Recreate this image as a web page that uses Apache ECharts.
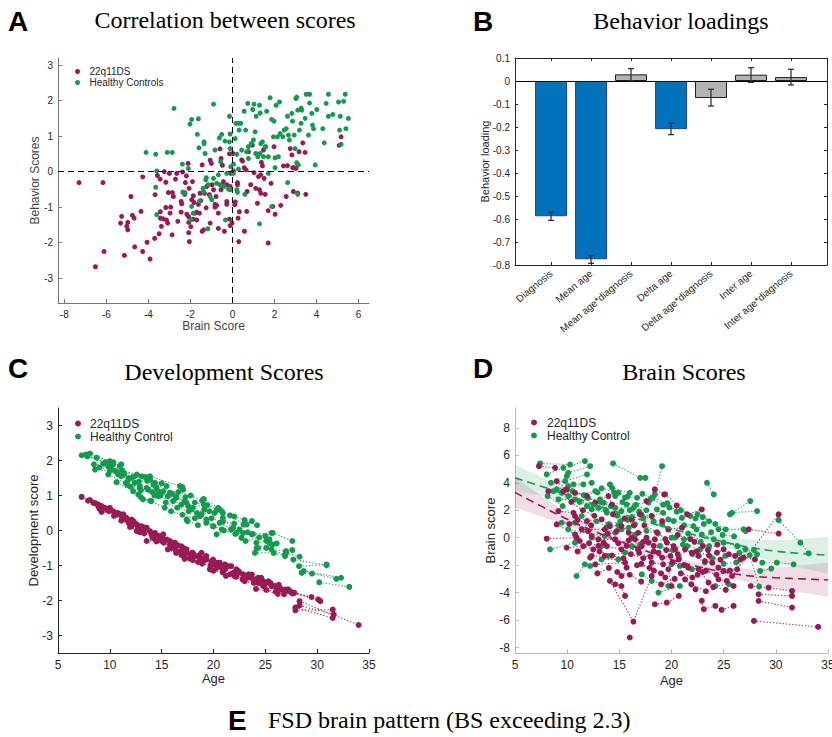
<!DOCTYPE html>
<html><head><meta charset="utf-8">
<script src="https://cdn.jsdelivr.net/npm/echarts@6/dist/echarts.min.js"></script>
<style>html,body{margin:0;padding:0;background:#fff}#c{width:832px;height:737px}</style>
</head><body><div id="c"></div>
<script>
// ---------- Panel A: Correlation between scores ----------
const a22q = [[-7.3,-0.31],[-6.16,-0.31],[-4.83,-0.70],[-4.27,-0.15],[-5.27,-1.26],[-5.32,-1.45],[-4.98,-1.43],[-5.03,-1.54],[-4.98,-1.64],[-4.76,-1.23],[-4.68,-1.31],[-4.35,-1.12],[-6.11,-2.25],[-6.52,-2.68],[-5.14,-2.36],[-4.65,-2.12],[-4.27,-2.25],[-4.06,-1.99],[-3.92,-2.46],[-3.70,-1.88],[-3.49,-1.75],[-3.68,-0.65],[-3.57,-0.11],[-3.44,-0.21],[-3.24,0.0],[-3.43,-1.13],[-3.43,-1.31],[-3.30,-1.33],[-3.38,-1.54],[-3.17,-0.30],[-3.17,-1.01],[-3.05,-0.59],[-3.0,-0.05],[-2.94,-1.0],[-2.86,-0.59],[-3.14,-1.36],[-3.08,-1.45],[-2.87,-1.78],[-2.97,-1.17],[-2.81,-0.70],[-2.71,-0.21],[-2.65,-0.05],[-2.60,-1.40],[-2.44,-1.14],[-2.44,-0.84],[-2.41,-0.91],[-2.27,-0.64],[-2.37,-0.01],[-2.17,-1.20],[-2.08,-1.27],[-2.08,-1.43],[-2.08,-1.72],[-2.05,-1.97],[-1.98,-1.55],[-2.24,-0.31],[-2.19,-0.12],[-2.06,-0.47],[-2.11,0.23],[-1.90,-0.28],[-1.94,-0.79],[-1.86,-0.68],[-1.83,-0.87],[-1.78,-1.17],[-1.70,-1.14],[-1.57,-1.17],[-1.86,-1.34],[-1.70,-1.36],[-1.62,-0.92],[-1.51,-0.82],[-1.44,-1.68],[-1.37,-1.64],[-1.44,0.19],[-1.33,-0.61],[-1.25,-1.02],[-1.10,-0.65],[-1.06,0.32],[-1.0,0.23],[-0.97,-0.37],[-0.90,-0.51],[-0.83,-0.92],[-0.83,-1.0],[-0.75,-0.95],[-0.67,-1.17],[-1.06,-1.45],[-0.67,-1.60],[-0.38,-1.68],[-0.54,0.37],[-0.59,0.64],[-0.48,0.18],[-0.43,-0.28],[-0.48,-0.39],[-0.27,-0.37],[-0.11,-0.42],[-0.27,-0.92],[-0.14,-1.34],[-0.11,-1.52],[-0.02,-1.45],[-0.27,-0.84],[-0.14,0.50],[0.02,0.51],[0.14,-0.85],[0.11,-0.93],[0.24,-0.31],[0.24,-0.37],[0.27,-1.31],[0.30,-1.97],[0.33,-1.13],[0.44,0.33],[0.48,0.30],[0.56,0.11],[0.65,0.05],[0.70,-0.56],[0.68,-1.12],[0.57,-1.68],[0.76,0.56],[0.87,-0.37],[0.95,0.75],[1.03,-0.03],[1.11,-0.47],[1.19,-0.89],[1.24,-0.14],[1.29,-0.51],[1.35,-0.09],[1.38,0.26],[1.35,-0.61],[1.43,0.16],[1.51,-0.19],[1.56,-0.64],[1.70,-1.10],[1.70,-2.01],[1.84,-0.33],[1.92,-0.98],[1.98,0.70],[2.03,-1.20],[2.30,-0.95],[2.43,0.16],[2.56,-0.70],[2.62,0.17],[2.75,0.65],[2.83,0.47],[2.87,0.11],[2.90,-0.56],[2.95,0.11],[3.03,0.09],[3.11,-0.61],[3.17,0.56],[3.35,0.81],[3.46,0.54],[3.49,-0.64],[5.08,0.74],[5.17,0.98],[1.48,0.61],[-1.54,-0.61],[-1.22,-0.42],[-0.78,-0.70],[-0.54,-0.51],[0.05,0.02],[-0.08,-0.05]];
const aHC = [[-2.78,1.78],[-4.11,0.54],[-3.65,0.49],[-3.10,0.54],[-2.86,0.54],[-3.60,0.02],[-3.65,-0.44],[-3.60,-1.21],[-2.38,0.21],[-2.10,0.09],[-2.02,1.34],[-1.94,1.47],[-1.62,1.49],[-1.67,1.05],[-1.59,0.67],[-1.35,0.84],[-1.35,0.79],[-1.30,0.51],[-0.90,1.90],[-0.83,0.61],[-0.62,0.95],[-0.51,1.05],[-0.56,0.28],[-0.35,0.86],[-0.14,1.56],[-0.14,0.84],[-0.11,0.65],[-0.11,1.06],[-2.36,-0.58],[-2.25,-0.59],[-1.94,-0.98],[-1.86,-1.17],[-1.98,-1.36],[-1.40,-0.47],[-1.37,-0.56],[-1.27,-0.23],[-1.24,-0.17],[-1.16,-0.37],[-1.06,-0.70],[-1.17,-1.61],[-0.90,-0.19],[-0.75,-0.33],[-0.67,-0.09],[-0.59,-0.37],[-0.40,-0.42],[-0.33,-1.36],[-0.27,-0.05],[-0.19,-0.49],[-0.08,0.14],[0.05,0.21],[0.13,0.93],[0.16,1.36],[0.29,1.36],[0.40,1.36],[0.21,0.49],[0.24,-0.58],[0.21,-0.51],[0.29,0.07],[0.32,1.17],[0.44,0.61],[0.56,1.70],[0.63,1.17],[0.68,0.56],[0.73,1.92],[0.76,0.37],[0.59,-0.64],[0.89,0.79],[0.97,1.75],[1.03,1.90],[1.08,1.12],[1.11,0.51],[1.13,1.56],[1.21,0.42],[1.29,1.87],[1.29,-1.47],[1.32,1.65],[1.35,0.79],[1.43,0.84],[1.48,0.42],[1.56,0.70],[1.59,0.70],[1.63,1.70],[1.71,0.42],[1.79,2.08],[1.71,-0.05],[1.87,1.47],[1.87,-0.98],[1.95,0.98],[1.98,1.42],[2.03,0.39],[2.03,0.11],[2.08,1.87],[2.14,0.98],[2.19,0.42],[2.24,1.96],[2.27,1.07],[2.40,0.98],[2.46,1.17],[2.56,1.21],[2.62,1.56],[2.63,-0.31],[2.67,1.03],[2.71,0.89],[2.83,1.64],[2.86,1.42],[2.94,1.03],[2.98,0.65],[3.02,2.06],[3.06,2.10],[3.06,0.25],[3.11,1.73],[3.11,-0.64],[3.14,0.19],[3.19,1.17],[3.27,1.79],[3.27,1.36],[3.30,1.73],[3.46,1.50],[3.51,2.18],[3.62,1.03],[3.67,2.18],[3.67,1.93],[3.78,1.64],[3.81,1.31],[3.86,1.21],[3.94,0.19],[4.02,1.75],[4.30,1.21],[4.37,0.81],[4.46,1.92],[4.57,2.18],[4.57,1.56],[4.78,1.61],[5.05,1.96],[5.10,1.17],[5.13,1.56],[5.17,0.77],[5.29,1.98],[5.37,2.18],[5.40,1.21],[5.52,1.50],[-0.11,-0.51],[-1.57,-0.83],[-0.98,-0.79],[0.05,-0.05],[0.76,0.70],[1.0,0.89],[1.32,0.51]];
const aTicksX = [-8,-6,-4,-2,0,2,4,6];
const aTicksY = [-3,-2,-1,0,1,2,3];

// ---------- Panel B: Behavior loadings ----------
const bCats = ['Diagnosis','Mean age','Mean age*diagnosis','Delta age','Delta age*diagnosis','Inter age','Inter age*diagnosis'];
const bVals = [-0.588,-0.775,0.029,-0.209,-0.074,0.0275,0.017];
const bErrLo = [-0.606,-0.793,0.0,-0.233,-0.109,-0.006,-0.017];
const bErrHi = [-0.570,-0.759,0.054,-0.183,-0.036,0.058,0.051];
const bSig = [true,true,false,true,false,false,false];

// ---------- Panel C: Development scores (each subject's visits joined) ----------
const cHC = [
 [[7.28,2.15],[8.73,2.08],[10.33,1.95]],[[7.7,2.17],[9.37,1.91],[10.5,1.70]],[[7.83,2.12],[9.63,1.95],[11.1,1.89]],
 [[8.08,2.2],[10.0,1.98],[10.97,1.84]],[[8.47,1.89],[9.85,1.84],[11.8,1.50]],[[8.57,1.74],[10.0,1.70],[11.1,1.55]],
 [[9.53,1.93],[10.3,1.89],[12.4,1.55]],[[9.85,1.60],[11.55,1.36],[12.4,1.36]],[[10.65,1.69],[12.1,1.50],[13.06,1.55]],
 [[10.65,1.38],[12.25,1.12],[12.75,1.03]],[[10.8,1.6],[11.8,1.46],[12.9,1.27]],[[13.4,1.53],[14.2,1.31],[15.47,1.27]],
 [[13.87,1.55],[16.75,1.27],[17.0,1.24]],[[13.55,1.22],[14.5,1.22],[15.15,1.12]],[[13.7,1.17],[14.66,1.12],[15.8,1.08],[17.07,1.17]],
 [[13.2,0.89],[14.0,0.84],[15.3,0.65]],[[14.35,1.36],[16.4,0.98],[17.4,0.79]],[[14.67,0.98],[16.1,0.84],[16.9,0.74]],
 [[15.6,0.98],[16.4,0.93],[17.2,0.84]],[[17.55,0.70],[17.9,0.60],[18.7,0.41]],[[17.7,0.6],[18.0,0.65],[19.07,0.74]],
 [[17.4,0.31],[17.5,0.27],[18.5,0.15]],[[18.4,0.50],[19.1,0.60],[20.1,0.50]],[[18.85,0.46],[19.6,0.55],[20.3,0.58]],
 [[19.0,0.89],[19.07,0.9],[20.45,0.65]],[[19.3,0.31],[20.0,0.12],[20.8,0.03]],[[19.3,0.22],[19.95,0.12],[20.6,0.22],[21.7,0.03]],
 [[20.3,-0.11],[21.9,0.08],[22.5,0.03]],[[20.8,0.55],[20.9,0.50],[21.6,0.43],[22.9,0.17]],[[20.9,0.36],[22.7,-0.21],[22.85,-0.07]],
 [[22.2,-0.07],[23.2,0.17],[23.7,0.27]],[[23.7,-0.11],[25.0,-0.16],[25.6,-0.07]],[[23.8,-0.10],[25.7,-0.07],[27.6,-0.30]],
 [[24.14,-0.35],[25.1,-0.30],[26.1,-0.37]],[[24.3,-0.5],[25.4,-0.37],[25.7,-0.4]],[[24.15,-0.50],[25.6,-0.54],[27.0,-0.59]],
 [[24.0,-0.64],[25.8,-0.64],[26.9,-0.73]],[[25.1,-0.5],[26.9,-0.69],[27.6,-0.56]],[[27.0,-0.64],[28.3,-0.75]],
 [[27.7,-0.83],[30.9,-0.99]],[[28.25,-1.02],[30.9,-0.97]],[[28.5,-1.21],[29.5,-1.23],[31.85,-1.38]],
 [[28.7,-1.16],[32.3,-1.35]],[[30.2,-1.48],[33.1,-1.61]],
 [[9.0,1.8],[10.2,1.75],[11.4,1.62]],[[11.2,1.72],[12.6,1.6],[13.6,1.42]],[[12.0,1.25],[13.0,1.15],[14.1,1.1]],
 [[12.8,1.4],[13.9,1.45],[15.0,1.35]],[[14.9,1.0],[16.0,1.05],[17.3,0.95]],[[15.9,0.55],[17.0,0.45],[18.2,0.35]],
 [[16.6,1.1],[17.8,1.0],[18.9,0.85]],[[18.2,0.8],[19.4,0.72],[20.6,0.6]],[[19.8,0.35],[20.9,0.25],[22.0,0.2]],
 [[21.0,0.0],[22.1,-0.1],[23.3,-0.05]],[[22.0,0.4],[23.0,0.3],[24.2,0.15]],[[23.1,-0.3],[24.4,-0.2],[25.4,-0.25]],
 [[13.0,0.95],[13.9,0.85]],[[15.4,0.8],[16.5,0.65],[17.6,0.55]],[[11.7,1.3],[12.9,1.2],[14.3,1.0]]
];
const c22q = [
 [[7.28,0.96],[8.4,0.79],[9.2,0.70]],[[8.08,0.87],[8.9,0.74],[9.7,0.60]],[[8.88,0.69],[9.53,0.65],[10.33,0.55]],
 [[9.2,0.53],[10.6,0.50],[11.3,0.41]],[[10.0,0.65],[10.97,0.46],[11.6,0.31]],[[10.0,0.6],[10.8,0.5],[11.6,0.36]],
 [[11.3,0.46],[12.1,0.31],[12.9,0.12]],[[11.95,0.22],[12.6,0.17],[13.55,0.08]],[[12.1,0.12],[13.1,0.12],[13.87,-0.02]],
 [[11.94,0.1],[12.9,-0.05],[14.35,-0.07]],[[12.25,0.27],[12.4,0.22],[13.4,0.08]],[[13.55,-0.30],[14.5,-0.31],[15.3,-0.26]],
 [[14.35,-0.11],[15.15,-0.11],[16.1,-0.35]],[[14.7,-0.16],[15.8,-0.30],[16.6,-0.43]],[[15.0,-0.16],[15.8,-0.40],[16.9,-0.45]],
 [[15.5,-0.26],[16.3,-0.35],[17.1,-0.50]],[[15.6,-0.54],[16.4,-0.64],[17.4,-0.54]],[[16.4,-0.59],[17.4,-0.64],[18.0,-0.64]],
 [[17.2,-0.81],[18.7,-0.78]],[[17.2,-0.73],[18.5,-0.73],[19.3,-0.83]],[[17.9,-0.64],[18.84,-0.64],[19.3,-0.73]],
 [[18.2,-0.73],[19.0,-0.88],[19.96,-0.83]],[[18.85,-0.88],[19.96,-0.92],[20.3,-1.07]],[[19.65,-1.11],[21.1,-1.11]],
 [[19.8,-0.88],[20.6,-0.92],[21.1,-0.97]],[[20.3,-0.92],[20.6,-1.02],[21.9,-1.21]],[[20.9,-1.11],[21.7,-1.02],[22.2,-1.11]],
 [[21.4,-1.02],[22.4,-1.16],[22.85,-1.26]],[[22.05,-1.31],[22.9,-1.26],[23.5,-1.31]],[[22.2,-1.32],[23.3,-1.35],[24.3,-1.5]],
 [[23.7,-1.26],[24.15,-1.40],[24.8,-1.45]],[[23.8,-1.4],[24.5,-1.50],[25.4,-1.5]],[[24.1,-1.67],[26.2,-1.81]],
 [[24.8,-1.59],[25.9,-1.59],[26.55,-1.69]],[[25.3,-1.45],[26.1,-1.64],[27.0,-1.73]],[[25.6,-1.59],[26.4,-1.64],[27.35,-1.73]],
 [[26.9,-1.69],[27.7,-1.78],[29.45,-1.90]],[[27.5,-1.76],[30.1,-1.97]],[[27.8,-1.78],[30.3,-2.02]],
 [[27.9,-2.28],[31.5,-2.26]],[[28.3,-2.14],[31.6,-2.40]],[[28.3,-2.02],[34.0,-2.70]],[[27.9,-2.20],[31.5,-2.50]],
 [[7.9,0.85],[8.6,0.78]],[[9.0,0.62],[9.9,0.55],[10.7,0.46]],[[10.4,0.42],[11.2,0.35],[12.0,0.2]],
 [[11.1,0.28],[11.8,0.22],[12.7,0.05]],[[12.6,-0.02],[13.3,-0.08],[14.1,-0.2]],[[13.2,0.02],[14.0,-0.1],[14.9,-0.22]],
 [[14.2,-0.22],[15.0,-0.3],[15.9,-0.45]],[[15.2,-0.35],[16.0,-0.5],[16.8,-0.6]],[[16.2,-0.45],[17.0,-0.6],[17.8,-0.72]],
 [[16.9,-0.7],[17.7,-0.8],[18.5,-0.9]],[[18.0,-0.85],[18.9,-0.95],[19.7,-1.0]],[[19.1,-0.8],[19.9,-0.98],[20.8,-1.05]],
 [[20.0,-1.15],[20.9,-1.2],[21.6,-1.25]],[[21.2,-1.3],[22.0,-1.22],[22.8,-1.4]],[[22.5,-1.2],[23.4,-1.25],[24.3,-1.35]],
 [[23.0,-1.45],[23.9,-1.5],[24.9,-1.55]],[[24.6,-1.35],[25.5,-1.5],[26.3,-1.55]],[[25.1,-1.7],[26.0,-1.75],[26.8,-1.82]],
 [[26.2,-1.6],[27.2,-1.68],[27.6,-1.8]]
];
const cTicksY = [-3,-2,-1,0,1,2,3];

// ---------- Panel D: Brain scores ----------
const dHC = [
 [[7.4,5.41],[10.28,5.33]],[[8.04,4.61],[9.64,5.09],[11.7,5.58]],[[8.45,4.0],[9.8,4.12],[11.9,4.61]],
 [[9.0,3.52],[10.6,3.88],[12.35,4.0]],[[8.68,3.39],[10.1,3.76],[11.55,3.88]],[[9.48,3.27],[10.1,3.03],[12.7,3.39]],
 [[9.16,2.79],[10.75,2.79],[13.15,2.79]],[[8.13,3.03],[9.57,2.3]],[[9.96,4.48],[10.1,4.73],[12.2,5.21]],
 [[14.4,5.41],[17.0,4.36],[17.5,4.36]],[[18.4,3.15],[19.1,5.21]],[[14.1,3.88],[14.3,3.64],[16.0,3.27]],
 [[14.6,3.03],[14.9,3.27],[15.55,2.91],[16.7,2.91]],[[13.5,2.55],[15.7,2.42],[17.8,2.55]],[[13.0,2.18],[14.6,2.18],[16.35,2.18]],
 [[12.35,2.06],[13.8,1.82],[15.2,1.94]],[[11.4,1.58],[12.35,0.0]],[[11.9,2.3]],
 [[9.48,1.09],[10.75,1.09],[13.3,-0.61]],[[10.1,0.61],[13.6,0.12],[14.6,0.36]],[[8.36,-0.85],[10.75,-0.36]],
 [[10.9,-2.79],[11.7,-1.94]],[[12.2,-2.06],[13.3,-1.58],[14.9,-1.58]],[[13.95,-1.33],[15.55,-1.09],[17.0,-0.48]],
 [[16.2,-0.61],[20.0,0.0]],[[17.15,-2.67],[18.1,-3.15],[19.7,-3.52]],[[18.75,-4.0],[20.8,-3.52]],
 [[15.2,0.61],[15.9,0.73],[16.5,0.97]],[[17.3,1.45],[18.1,1.58],[19.2,1.82]],[[18.6,2.06],[20.2,1.21],[21.0,1.45]],
 [[19.4,3.15],[21.8,1.58]],[[19.1,0.97],[19.7,1.33],[22.1,0.85]],[[19.7,0.61],[20.36,0.0],[21.2,-0.12]],
 [[21.5,-0.61],[22.75,-0.85],[23.6,-0.61]],[[20.7,-1.45],[22.9,0.24],[24.05,-0.12]],[[20.0,-1.94],[20.8,-2.06],[21.95,-2.3]],
 [[23.4,4.0],[24.05,3.15]],[[24.2,-3.52],[25.5,-3.39]],[[24.5,0.61],[26.9,0.61],[27.1,0.48]],
 [[25.0,-0.36],[26.3,-0.61],[27.1,-0.85]],[[25.15,-1.33],[28.2,-1.21]],[[25.6,1.7],[27.55,2.67]],
 [[25.8,1.82],[28.2,1.94]],[[28.7,-1.82],[30.1,-1.82],[31.7,-1.94]],[[27.5,-1.28],[28.4,-3.56]],
 [[28.5,-2.42],[29.56,-2.25]],[[30.27,1.28],[32.35,-0.36],[33.15,-1.14]],
 [[12.0,2.9],[13.2,2.6],[14.2,2.3]],[[14.8,1.6],[15.8,1.3],[16.9,1.9]],[[16.0,2.0],[17.1,1.7],[18.3,1.2]],
 [[15.3,2.6],[16.6,2.4],[17.6,2.0]],[[18.0,2.8],[19.2,2.4],[20.5,1.9]],[[21.2,0.9],[22.4,0.6],[23.1,1.0]],
 [[22.5,1.7],[23.6,1.2]],[[24.9,0.2],[26.0,0.1]],[[26.5,-1.1],[27.9,-0.9]],
 [[10.5,3.4],[11.6,3.1],[12.9,3.3]],[[11.2,2.6],[12.5,2.4],[13.7,2.0]],[[13.3,3.6],[14.5,3.3],[15.8,3.0]],
 [[14.0,1.0],[15.1,1.2],[16.2,1.5]],[[16.5,0.2],[17.6,0.5],[18.7,0.3]],[[17.2,3.2],[18.2,2.9],[19.6,2.5]],
 [[18.9,-0.6],[20.1,-0.9],[21.1,-0.5]],[[19.8,2.2],[20.9,2.0],[22.3,1.4]],[[21.6,0.3],[22.8,-0.3],[23.8,0.4]],
 [[23.0,1.5],[24.2,1.0],[25.2,0.6]],[[23.9,-1.5],[25.0,-1.9],[26.2,-1.8]],[[12.8,1.2],[13.8,0.8],[14.9,0.9]],
 [[22.0,-1.2],[23.2,-1.8]]
];
const d22q = [
 [[7.3,5.21],[8.84,5.09]],[[8.2,3.39],[9.64,3.39],[10.75,3.27]],[[9.0,4.12],[9.96,3.52],[11.9,3.03]],
 [[9.16,1.94],[10.6,1.82],[10.75,1.58]],[[9.0,0.97],[10.75,0.24],[12.0,0.48]],[[8.04,-0.07],[10.9,0.0],[11.2,-0.24]],
 [[9.96,-0.73],[11.55,-0.61],[12.5,-0.85]],[[11.4,0.61],[13.6,0.61],[14.75,0.48]],[[11.9,1.21],[13.3,1.33],[14.1,0.85]],
 [[12.35,0.12],[13.0,-0.12],[14.6,-0.12]],[[12.2,-1.45],[12.35,-1.33],[13.6,-1.33]],[[12.7,-1.94],[15.55,-1.82],[15.7,-2.18]],
 [[13.5,-0.36],[13.8,-0.61],[15.2,-0.85]],[[14.1,-3.15],[16.35,-6.11],[18.1,-2.79]],[[14.6,-3.39],[15.2,-3.52],[15.55,-4.24]],
 [[16.0,-7.27]],[[15.2,-2.79]],[[12.7,2.55],[13.95,3.03],[14.3,2.42]],
 [[15.2,0.85],[15.9,0.36],[16.8,0.36]],[[16.2,1.33],[17.0,1.7],[18.1,1.58]],[[17.6,2.67],[18.4,3.52],[19.3,3.15]],
 [[16.5,-0.12],[16.8,-0.85],[17.15,-0.61]],[[17.6,0.0],[17.8,-0.36],[18.4,-0.12]],[[18.75,-1.09],[19.1,-1.45],[19.9,-1.33]],
 [[18.1,-1.82],[19.2,-1.94],[20.7,-1.58]],[[19.1,1.21],[19.7,0.61],[21.0,0.73]],[[18.4,-4.85],[19.55,-4.73],[20.7,-4.24]],
 [[20.5,2.35],[21.5,1.7],[22.9,2.06]],[[19.56,-0.36],[20.2,-0.61],[20.36,-0.85]],[[21.3,-0.85],[21.95,-1.09],[22.6,-1.33]],
 [[23.2,-1.7],[23.9,-1.82],[24.5,-2.18]],[[25.0,-2.42],[26.3,-2.3],[26.6,-1.58]],[[24.5,-3.03],[25.3,-3.15],[25.95,-3.52]],
 [[22.9,-4.6],[23.1,-5.21],[24.2,-4.97]],[[24.8,-5.26],[25.95,-4.97]],[[21.6,-2.18],[22.6,-2.3],[23.55,-3.27]],
 [[21.3,-3.03],[22.3,-3.76]],[[19.7,-2.3],[20.0,-3.52]],[[24.36,-1.09],[25.0,-0.85],[25.5,-1.21],[26.1,-1.33]],
 [[26.9,-1.45],[28.0,-1.58]],[[27.4,0.61],[30.27,0.3]],[[25.8,-2.79],[30.27,1.7]],
 [[27.6,-3.52],[29.3,-3.64],[31.55,-3.88]],[[28.35,-4.12],[31.55,-4.24]],[[28.35,-4.61],[31.55,-5.09]],
 [[27.9,-6.06],[34.05,-6.5]],[[13.9,0.3],[14.9,-0.4],[15.9,-0.2]],[[16.1,-1.2],[17.3,-1.5],[18.3,-1.0]],
 [[16.7,-2.0],[17.9,-2.2],[19.0,-2.6]],[[14.4,1.7],[15.5,1.4],[16.4,0.9]],[[17.4,0.9],[18.6,0.4],[19.4,-0.1]],
 [[20.9,-2.6],[22.0,-2.9],[23.0,-2.5]],[[22.2,-0.3],[23.5,-0.9],[24.4,-0.5]],[[10.4,2.6],[11.5,2.0],[12.6,1.6]],
 [[12.9,-2.6],[14.0,-2.2]],
 [[10.2,1.0],[11.0,1.3],[12.3,0.9]],[[11.0,-1.0],[12.1,-0.4],[13.0,-0.6]],[[13.1,-1.0],[14.3,-1.3],[15.4,-1.5]],
 [[14.8,-2.5],[16.0,-2.7],[17.1,-3.2]],[[15.7,-0.6],[16.9,-1.1],[18.0,-1.4]],[[17.1,-1.9],[18.3,-2.4],[19.4,-2.9]],
 [[18.3,-0.6],[19.5,-0.9],[20.6,-1.2]],[[20.1,-1.8],[21.2,-2.0],[22.5,-2.7]],[[20.6,0.2],[21.8,-0.1],[23.0,-0.6]],
 [[22.4,-1.0],[23.6,-1.3],[24.7,-1.6]],[[23.3,-2.4],[24.3,-2.7],[25.6,-2.4]],[[24.0,-3.6],[25.2,-3.8]],
 [[19.0,-3.4],[20.3,-3.0]],[[21.9,-3.4],[23.3,-3.9]],[[16.2,0.0],[17.3,-0.3]]
];
const dFitAges = [5,7.5,10,12.5,15,17.5,20,22.5,25,27.5,30,32.5,35];
const dFitHC   = [4.36,3.75,3.1,2.45,1.8,1.2,0.65,0.15,-0.3,-0.7,-0.98,-1.15,-1.28];
const dFit22q  = [3.3,2.3,1.35,0.5,-0.25,-0.95,-1.6,-2.1,-2.5,-2.78,-2.92,-3.0,-3.08];
const dBandHCHi  = [5.31,4.45,3.55,2.75,2.05,1.4,0.85,0.4,0.05,-0.15,-0.18,-0.1,0.07];
const dBandHCLo  = [3.41,3.05,2.65,2.15,1.55,1.0,0.45,-0.1,-0.65,-1.25,-1.78,-2.2,-2.63];
const dBand22qHi = [4.4,3.05,1.8,0.8,0.0,-0.75,-1.4,-1.85,-2.15,-2.28,-2.17,-2.0,-1.8];
const dBand22qLo = [2.2,1.55,0.9,0.2,-0.5,-1.15,-1.8,-2.35,-2.85,-3.28,-3.67,-4.0,-4.3];
const dTicksY = [-8,-6,-4,-2,0,2,4,6,8];

// ---------- styling ----------
const MAROON = '#9a1a55', GREEN = '#149a4f';
const SANS = '"Liberation Sans", Arial, Helvetica, sans-serif';
const SERIF = '"Liberation Serif", "Times New Roman", serif';
const TXT = '#262626';

function axisBase(gridIndex, lineColor, fs) {
  return {
    gridIndex, type: 'value',
    axisLine: { show: true, onZero: false, lineStyle: { color: lineColor, width: 1 } },
    axisTick: { show: true, inside: true, length: 4, lineStyle: { color: lineColor } },
    axisLabel: { color: TXT, fontSize: fs, fontFamily: SANS, margin: 5 },
    splitLine: { show: false },
    nameLocation: 'middle', nameMoveOverlap: false,
    nameTextStyle: { color: TXT, fontFamily: SANS }
  };
}
function merge(a, b) {
  const o = Object.assign({}, a);
  for (const k in b) {
    if (b[k] && typeof b[k] === 'object' && !Array.isArray(b[k]) && a[k] && typeof a[k] === 'object') o[k] = Object.assign({}, a[k], b[k]);
    else o[k] = b[k];
  }
  return o;
}

const bIdx = bCats.map((c, i) => i + 1);

const xAxis = [
  merge(axisBase(0, '#777', 10), { min: -8.3, max: 6.5, name: 'Brain Score', nameGap: 17,
    axisTick: { customValues: aTicksX }, axisLabel: { customValues: aTicksX, margin: 6 },
    nameTextStyle: { fontSize: 12, color: '#444' } }),
  merge(axisBase(1, TXT, 10), { min: 0.1, max: 7.9,
    axisTick: { customValues: bIdx, length: 3 },
    axisLabel: { customValues: bIdx, rotate: 40, margin: 7, formatter: v => bCats[Math.round(v) - 1] || '' } }),
  merge(axisBase(1, TXT, 10), { min: 0.1, max: 7.9, position: 'top',
    axisTick: { customValues: bIdx, length: 3 }, axisLabel: { show: false } }),
  merge(axisBase(2, TXT, 12), { min: 5, max: 35, interval: 5, name: 'Age', nameGap: 19,
    axisLabel: { margin: 6 }, nameTextStyle: { fontSize: 13 } }),
  merge(axisBase(3, '#bbb', 12), { min: 5, max: 35, interval: 5, name: 'Age', nameGap: 21,
    axisLabel: { margin: 6 }, nameTextStyle: { fontSize: 13 } })
];
const yAxis = [
  merge(axisBase(0, '#777', 10), { min: -3.7, max: 3.2, name: 'Behavior Scores', nameGap: 17,
    axisTick: { customValues: aTicksY }, axisLabel: { customValues: aTicksY },
    nameTextStyle: { fontSize: 12, color: '#444' } }),
  merge(axisBase(1, TXT, 10), { min: -0.8, max: 0.1, interval: 0.1, name: 'Behavior loading', nameGap: 25,
    axisTick: { length: 3 }, nameTextStyle: { fontSize: 11 } }),
  merge(axisBase(1, TXT, 10), { min: -0.8, max: 0.1, interval: 0.1, position: 'right',
    axisTick: { length: 3 }, axisLabel: { show: false } }),
  merge(axisBase(2, TXT, 12), { min: -3.5, max: 3.5, name: 'Development score', nameGap: 18,
    axisTick: { customValues: cTicksY }, axisLabel: { customValues: cTicksY }, nameTextStyle: { fontSize: 13 } }),
  merge(axisBase(3, '#bbb', 12), { min: -8.4, max: 9.45, name: 'Brain score', nameGap: 18,
    axisTick: { customValues: dTicksY }, axisLabel: { customValues: dTicksY }, nameTextStyle: { fontSize: 13 } })
];

const grid = [
  { left: 58, top: 58, width: 311, height: 245, outerBoundsMode: 'none', containLabel: false },
  { left: 515, top: 58, width: 312, height: 207, outerBoundsMode: 'none', containLabel: false },
  { left: 58, top: 408, width: 311, height: 245, outerBoundsMode: 'none', containLabel: false },
  { left: 515, top: 408, width: 313, height: 245, outerBoundsMode: 'none', containLabel: false }
];

function bandSeries(hi, lo, color, name) {
  return {
    type: 'custom', name, xAxisIndex: 4, yAxisIndex: 4, z: 1, silent: true,
    data: [[20, 0]],
    renderItem: (params, api) => {
      const top = dFitAges.map((a, i) => api.coord([a, hi[i]]));
      const bot = dFitAges.map((a, i) => api.coord([a, lo[i]])).reverse();
      return { type: 'polygon', shape: { points: top.concat(bot) }, style: { fill: color } };
    }
  };
}
function subjLines(subjects, color, ai, name) {
  return {
    type: 'lines', name, coordinateSystem: 'cartesian2d', xAxisIndex: ai, yAxisIndex: ai,
    polyline: true, silent: true, z: 2,
    data: subjects.filter(s => s.length > 1).map(s => ({ coords: s })),
    lineStyle: { color, width: 1.1, type: [1.4, 1.8], opacity: 0.85 }
  };
}
function pts(subjects, color, ai, name, size) {
  return { type: 'scatter', name, xAxisIndex: ai, yAxisIndex: ai, z: 3,
    data: subjects.flat(), symbolSize: size, itemStyle: { color, opacity: 1 } };
}

const series = [
  // A
  { type: 'scatter', name: '22q11DS', xAxisIndex: 0, yAxisIndex: 0, data: a22q, symbolSize: 5,
    itemStyle: { color: MAROON, opacity: 1 },
    markLine: { silent: true, symbol: 'none', label: { show: false },
      lineStyle: { color: '#000', type: [6, 4], width: 1 }, data: [{ xAxis: 0 }, { yAxis: 0 }] } },
  { type: 'scatter', name: 'Healthy Controls', xAxisIndex: 0, yAxisIndex: 0, data: aHC, symbolSize: 5,
    itemStyle: { color: GREEN, opacity: 1 } },
  // B
  { type: 'bar', name: 'loading', xAxisIndex: 1, yAxisIndex: 1, barWidth: 32,
    data: bVals.map((v, i) => ({ value: [i + 1, v],
      itemStyle: bSig[i] ? { color: '#0071BD', borderColor: '#2a3ea8', borderWidth: 1 }
                         : { color: '#b3b3b3', borderColor: '#1e1e24', borderWidth: 1 } })),
    markLine: { silent: true, symbol: 'none', label: { show: false },
      lineStyle: { color: '#000', type: 'solid', width: 1 }, data: [{ yAxis: 0 }] } },
  { type: 'custom', name: 'err', xAxisIndex: 1, yAxisIndex: 1, z: 5,
    data: bVals.map((v, i) => [i + 1, bErrLo[i], bErrHi[i]]),
    encode: { x: 0, y: [1, 2] },
    renderItem: (params, api) => {
      const x = api.value(0);
      const p1 = api.coord([x, api.value(1)]), p2 = api.coord([x, api.value(2)]);
      const w = 3, st = { stroke: '#333', lineWidth: 1.3 };
      return { type: 'group', children: [
        { type: 'line', shape: { x1: p1[0], y1: p1[1], x2: p2[0], y2: p2[1] }, style: st },
        { type: 'line', shape: { x1: p1[0] - w, y1: p1[1], x2: p1[0] + w, y2: p1[1] }, style: st },
        { type: 'line', shape: { x1: p2[0] - w, y1: p2[1], x2: p2[0] + w, y2: p2[1] }, style: st } ] };
    } },
  // C
  subjLines(cHC, GREEN, 3, 'cHCLines'),
  subjLines(c22q, MAROON, 3, 'c22qLines'),
  pts(cHC, GREEN, 3, 'Healthy Control', 6),
  pts(c22q, MAROON, 3, '22q11DS', 6),
  // D
  bandSeries(dBand22qHi, dBand22qLo, 'rgba(160,30,90,0.15)', 'band22q'),
  bandSeries(dBandHCHi, dBandHCLo, 'rgba(26,152,80,0.15)', 'bandHC'),
  subjLines(dHC, GREEN, 4, 'dHCLines'),
  subjLines(d22q, MAROON, 4, 'd22qLines'),
  pts(dHC, GREEN, 4, 'Healthy Control', 6),
  pts(d22q, MAROON, 4, '22q11DS', 6),
  { type: 'line', name: 'fitHC', xAxisIndex: 4, yAxisIndex: 4, z: 4, smooth: true, showSymbol: false, silent: true,
    data: dFitAges.map((a, i) => [a, dFitHC[i]]), lineStyle: { color: GREEN, width: 1.6, type: [8, 5] } },
  { type: 'line', name: 'fit22q', xAxisIndex: 4, yAxisIndex: 4, z: 4, smooth: true, showSymbol: false, silent: true,
    data: dFitAges.map((a, i) => [a, dFit22q[i]]), lineStyle: { color: MAROON, width: 1.6, type: [8, 5] } }
];

const legend = [
  { data: ['22q11DS', 'Healthy Controls'], left: 70, top: 61, orient: 'vertical', icon: 'circle',
    itemWidth: 14, itemHeight: 5, itemGap: 0, selectedMode: false,
    textStyle: { color: TXT, fontFamily: SANS, fontSize: 10, lineHeight: 11 } },
  { data: ['22q11DS', 'Healthy Control'], left: 70, top: 412, orient: 'vertical', icon: 'circle',
    itemWidth: 14, itemHeight: 6, itemGap: 0, selectedMode: false,
    textStyle: { color: TXT, fontFamily: SANS, fontSize: 12, lineHeight: 13 } },
  { data: ['22q11DS', 'Healthy Control'], left: 526, top: 411, orient: 'vertical', icon: 'circle',
    itemWidth: 16, itemHeight: 6, itemGap: 0, selectedMode: false,
    textStyle: { color: TXT, fontFamily: SANS, fontSize: 12, lineHeight: 13 } }
];

function txt(text, x, y, font, align) {
  return { type: 'text', x, y, silent: true,
    style: { text, font, fill: '#000', align: align || 'center', verticalAlign: 'middle',
      textAlign: align || 'center', textVerticalAlign: 'middle' } };
}
const graphic = [
  txt('A', 8, 21, 'bold 28px ' + SANS, 'left'),
  txt('Correlation between scores', 225, 20, '24px ' + SERIF),
  txt('B', 473, 21, 'bold 28px ' + SANS, 'left'),
  txt('Behavior loadings', 681, 21, '24px ' + SERIF),
  txt('C', 8, 368, 'bold 28px ' + SANS, 'left'),
  txt('Development Scores', 224, 372, '24px ' + SERIF),
  txt('D', 473, 368, 'bold 28px ' + SANS, 'left'),
  txt('Brain Scores', 684, 372, '24px ' + SERIF),
  txt('E', 228, 720, 'bold 28px ' + SANS, 'left'),
  txt('FSD brain pattern (BS exceeding 2.3)', 268, 720, '24px ' + SERIF, 'left')
];

const chart = echarts.init(document.getElementById('c'), null, { renderer: 'svg' });
chart.setOption({ animation: false, backgroundColor: '#fff', grid, xAxis, yAxis, series, legend, graphic });
</script></body></html>
